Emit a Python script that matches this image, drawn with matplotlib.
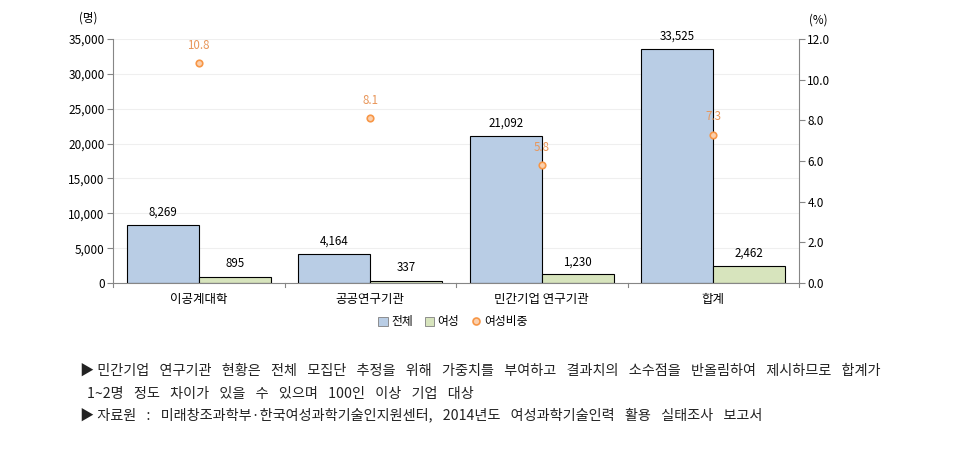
import matplotlib
matplotlib.use('Agg')
import matplotlib.pyplot as plt
import numpy as np
from matplotlib.ticker import FuncFormatter, MultipleLocator
from matplotlib.lines import Line2D
from matplotlib.patches import Patch

plt.rcParams['font.family'] = ['Noto Sans CJK KR', 'DejaVu Sans']

# --- data ---
categories = ['이공계대학', '공공연구기관', '민간기업 연구기관', '합계']
total = [8269, 4164, 21092, 33525]
female = [895, 337, 1230, 2462]
female_ratio = [10.8, 8.1, 5.8, 7.3]

notes = [
    '▶ 민간기업 연구기관 현황은 전체 모집단 추정을 위해 가중치를 부여하고 결과치의 소수점을 반올림하여 제시하므로 합계가',
    '1~2명 정도 차이가 있을 수 있으며 100인 이상 기업 대상',
    '▶ 자료원 : 미래창조과학부·한국여성과학기술인지원센터, 2014년도 여성과학기술인력 활용 실태조사 보고서',
]

BLUE = '#B9CDE5'
GREEN = '#D7E4BD'
ORANGE = '#F79646'
LABEL_ORANGE = '#E8965A'
GRID = '#EFEFEF'
SPINE = '#868686'

fig = plt.figure(figsize=(9.73, 4.53), dpi=100)
ax = fig.add_axes([113 / 973, 1 - 283 / 453, (799 - 113) / 973, (283 - 39) / 453])
ax2 = ax.twinx()

x = np.arange(len(categories))
w = 0.42
ax.bar(x - w / 2, total, w, color=BLUE, edgecolor='black', linewidth=0.8, zorder=2)
ax.bar(x + w / 2, female, w, color=GREEN, edgecolor='black', linewidth=0.8, zorder=2)

for xi, v in zip(x, total):
    ax.text(xi - w / 2, v + 900, f'{v:,}', ha='center', va='bottom', fontsize=8.3)
for xi, v in zip(x, female):
    ax.text(xi + w / 2, v + 900, f'{v:,}', ha='center', va='bottom', fontsize=8.3)

ax.set_xlim(-0.5, len(categories) - 0.5)
ax.set_ylim(0, 35000)
ax.yaxis.set_major_locator(MultipleLocator(5000))
ax.yaxis.set_major_formatter(FuncFormatter(lambda v, p: f'{int(v):,}'))
ax.grid(axis='y', color=GRID, linewidth=0.8, zorder=0)
ax.set_axisbelow(True)

ax.set_xticks(x)
ax.set_xticklabels(categories, fontsize=9)
ax.tick_params(axis='x', length=0, pad=7)
# category separators on the bottom axis
for b in np.arange(-0.5, len(categories), 1.0):
    ax.plot([b, b], [0, -0.018], transform=ax.get_xaxis_transform(), color=SPINE,
            linewidth=0.8, clip_on=False)
ax.tick_params(axis='y', labelsize=8.5, length=4, color=SPINE, pad=2)

for s in ['top', 'right']:
    ax.spines[s].set_visible(False)
for s in ['left', 'bottom']:
    ax.spines[s].set_color(SPINE)
    ax.spines[s].set_linewidth(0.8)

ax2.scatter(x, female_ratio, s=22, facecolor='#FBD0AE', edgecolor=ORANGE, linewidth=1.2, zorder=5)
for xi, v in zip(x, female_ratio):
    ax2.text(xi, v + 0.55, f'{v:.1f}', ha='center', va='bottom', fontsize=8.3, color=LABEL_ORANGE)
ax2.set_ylim(0, 12)
ax2.yaxis.set_major_locator(MultipleLocator(2))
ax2.yaxis.set_major_formatter(FuncFormatter(lambda v, p: f'{v:.1f}'))
ax2.tick_params(axis='y', labelsize=8.5, length=4, color=SPINE, pad=2)
for s in ['top', 'left', 'bottom']:
    ax2.spines[s].set_visible(False)
ax2.spines['right'].set_color(SPINE)
ax2.spines['right'].set_linewidth(0.8)

fig.text(88 / 973, 1 - 18 / 453, '(명)', fontsize=8.3, ha='center', va='center')
fig.text(818 / 973, 1 - 20 / 453, '(%)', fontsize=8.3, ha='center', va='center')

handles = [
    Patch(facecolor=BLUE, edgecolor='#7F7F7F', linewidth=0.6),
    Patch(facecolor=GREEN, edgecolor='#7F7F7F', linewidth=0.6),
    Line2D([], [], marker='o', linestyle='none', markersize=5,
           markerfacecolor='#FBD0AE', markeredgecolor=ORANGE, markeredgewidth=1.2),
]
fig.legend(handles, ['전체', '여성', '여성비중'], loc='center', ncol=3,
           bbox_to_anchor=(453 / 973, 1 - 322 / 453), frameon=False, fontsize=8.5,
           handlelength=0.8, handleheight=0.8, handletextpad=0.3, columnspacing=1.0)

# notes below the chart (wide word spacing as in the source document)
note_x = [80, 87, 80]
note_y = [371, 394, 415]
for line, nx, ny in zip(notes, note_x, note_y):
    txt = line.replace(' ', '\u2002 ').replace('▶\u2002 ', '▶ ')
    fig.text(nx / 973, 1 - ny / 453, txt, fontsize=10.2,
             ha='left', va='center', color='#222222')

fig.savefig('out.png', dpi=100)
